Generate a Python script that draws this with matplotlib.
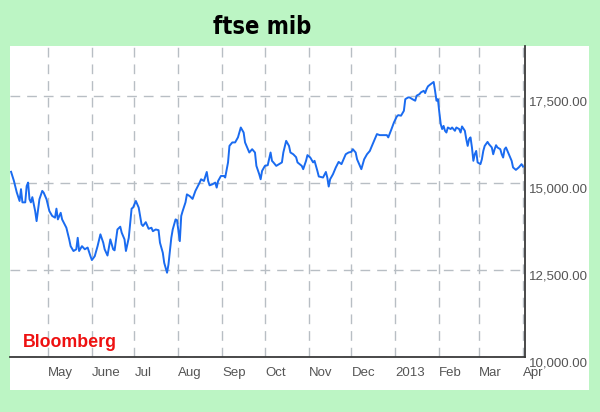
import matplotlib
matplotlib.use("Agg")
import matplotlib.pyplot as plt
from matplotlib.patches import Rectangle
from matplotlib.ticker import FuncFormatter
import pandas as pd

# ftse mib daily close (Apr 2012 - Apr 2013)
dates = [
    "2012-04-05", "2012-04-07", "2012-04-09", "2012-04-11", "2012-04-12", "2012-04-13", "2012-04-15",
    "2012-04-16", "2012-04-17", "2012-04-18", "2012-04-19", "2012-04-20", "2012-04-22", "2012-04-23",
    "2012-04-25", "2012-04-27", "2012-04-28", "2012-04-30", "2012-05-02", "2012-05-04", "2012-05-06",
    "2012-05-07", "2012-05-08", "2012-05-10", "2012-05-11", "2012-05-14", "2012-05-16", "2012-05-17",
    "2012-05-19", "2012-05-21", "2012-05-22", "2012-05-23", "2012-05-25", "2012-05-27", "2012-05-29",
    "2012-05-31", "2012-06-01", "2012-06-03", "2012-06-05", "2012-06-07", "2012-06-09", "2012-06-10",
    "2012-06-12", "2012-06-14", "2012-06-16", "2012-06-17", "2012-06-19", "2012-06-21", "2012-06-22",
    "2012-06-24", "2012-06-25", "2012-06-27", "2012-06-29", "2012-06-30", "2012-07-02", "2012-07-04",
    "2012-07-06", "2012-07-07", "2012-07-09", "2012-07-11", "2012-07-13", "2012-07-14", "2012-07-16",
    "2012-07-18", "2012-07-19", "2012-07-21", "2012-07-22", "2012-07-24", "2012-07-25", "2012-07-27",
    "2012-07-28", "2012-07-30", "2012-07-31", "2012-08-02", "2012-08-03", "2012-08-04", "2012-08-06",
    "2012-08-07", "2012-08-09", "2012-08-11", "2012-08-13", "2012-08-16", "2012-08-17", "2012-08-19",
    "2012-08-21", "2012-08-22", "2012-08-23", "2012-08-25", "2012-08-27", "2012-08-28", "2012-08-29",
    "2012-08-31", "2012-09-02", "2012-09-03", "2012-09-05", "2012-09-06", "2012-09-08", "2012-09-10",
    "2012-09-12", "2012-09-13", "2012-09-14", "2012-09-16", "2012-09-17", "2012-09-19", "2012-09-20",
    "2012-09-22", "2012-09-24", "2012-09-25", "2012-09-27", "2012-09-28", "2012-09-29", "2012-10-01",
    "2012-10-03", "2012-10-05", "2012-10-06", "2012-10-07", "2012-10-09", "2012-10-11", "2012-10-13",
    "2012-10-14", "2012-10-16", "2012-10-18", "2012-10-19", "2012-10-21", "2012-10-23", "2012-10-24",
    "2012-10-27", "2012-10-28", "2012-10-30", "2012-10-31", "2012-11-02", "2012-11-04", "2012-11-05",
    "2012-11-07", "2012-11-08", "2012-11-11", "2012-11-13", "2012-11-14", "2012-11-15", "2012-11-16",
    "2012-11-18", "2012-11-20", "2012-11-22", "2012-11-24", "2012-11-25", "2012-11-27", "2012-11-29",
    "2012-12-01", "2012-12-02", "2012-12-04", "2012-12-05", "2012-12-07", "2012-12-08", "2012-12-10",
    "2012-12-12", "2012-12-14", "2012-12-15", "2012-12-17", "2012-12-19", "2012-12-21", "2012-12-23",
    "2012-12-26", "2012-12-27", "2012-12-29", "2012-12-31", "2013-01-02", "2013-01-03", "2013-01-05",
    "2013-01-07", "2013-01-08", "2013-01-10", "2013-01-11", "2013-01-13", "2013-01-15", "2013-01-16",
    "2013-01-18", "2013-01-19", "2013-01-21", "2013-01-22", "2013-01-23", "2013-01-24", "2013-01-26",
    "2013-01-28", "2013-01-29", "2013-01-30", "2013-01-31", "2013-02-01", "2013-02-02", "2013-02-03",
    "2013-02-04", "2013-02-05", "2013-02-06", "2013-02-07", "2013-02-09", "2013-02-10", "2013-02-12",
    "2013-02-13", "2013-02-15", "2013-02-16", "2013-02-17", "2013-02-19", "2013-02-20", "2013-02-21",
    "2013-02-22", "2013-02-23", "2013-02-24", "2013-02-25", "2013-02-26", "2013-02-27", "2013-02-28",
    "2013-03-02", "2013-03-03", "2013-03-04", "2013-03-05", "2013-03-07", "2013-03-08", "2013-03-10",
    "2013-03-11", "2013-03-12", "2013-03-13", "2013-03-14", "2013-03-16", "2013-03-17", "2013-03-18",
    "2013-03-19", "2013-03-20", "2013-03-22", "2013-03-24", "2013-03-25", "2013-03-27", "2013-03-29",
    "2013-03-31", "2013-04-01",
]
values = [
    15330, 15070, 14740, 14490, 14830, 14450, 14450,
    14920, 15020, 14540, 14450, 14600, 14200, 13910,
    14540, 14780, 14730, 14540, 14200, 14060, 14010,
    14270, 13960, 14150, 13960, 13720, 13385, 13190,
    13050, 13100, 13430, 13050, 13190, 13100, 13150,
    12900, 12790, 12900, 13190, 13530, 13290, 13100,
    12920, 13385, 13100, 13070, 13670, 13750, 13580,
    13385, 13050, 13430, 14270, 14300, 14490, 14300,
    13820, 13770, 13880, 13690, 13720, 13620, 13670,
    13650, 13290, 13000, 12710, 12425, 12665, 13430,
    13670, 13960, 13940, 13335, 14060, 14200, 14450,
    14680, 14630, 14550, 14780, 15020, 15115, 15065,
    15325, 15065, 14940, 14970, 15020, 14875, 15065,
    15210, 15210, 15165, 15600, 16075, 16175, 16175,
    16320, 16460, 16605, 16460, 16175, 15980, 15885,
    15980, 15885, 15500, 15260, 15115, 15355, 15500,
    15520, 15885, 15645, 15600, 15500, 15550, 15600,
    15885, 16220, 16075, 15885, 15835, 15750, 15600,
    15500, 15405, 15645, 15810, 15740, 15600, 15645,
    15355, 15195, 15165, 15325, 15165, 14905, 15115,
    15260, 15455, 15615, 15550, 15645, 15835, 15885,
    15905, 15980, 15885, 15690, 15500, 15405, 15690,
    15835, 15930, 16030, 16220, 16415, 16385, 16385,
    16385, 16320, 16530, 16750, 16920, 16960, 16945,
    17085, 17420, 17470, 17470, 17420, 17375, 17520,
    17565, 17615, 17660, 17595, 17710, 17790, 17855,
    17915, 17660, 17375, 17420, 17040, 16700, 16560,
    16650, 16510, 16460, 16605, 16560, 16605, 16510,
    16605, 16560, 16460, 16635, 16510, 16270, 16075,
    16270, 16320, 16030, 15645, 15835, 15930, 15600,
    15550, 15690, 15930, 16075, 16190, 16125, 16030,
    15835, 15980, 16095, 16030, 15980, 15835, 15740,
    15980, 16030, 15835, 15645, 15455, 15385, 15455,
    15550, 15480,
]

month_starts = ["2012-05-01", "2012-06-01", "2012-07-01", "2012-08-01", "2012-09-01", "2012-10-01",
                "2012-11-01", "2012-12-01", "2013-01-01", "2013-02-01", "2013-03-01", "2013-04-01"]
month_labels = ["May", "June", "Jul", "Aug", "Sep", "Oct", "Nov", "Dec", "2013", "Feb", "Mar", "Apr"]
y_ticks = [10000, 12500, 15000, 17500]

x = pd.to_datetime(dates)

W, H = 600, 412
fig = plt.figure(figsize=(6, 4.12), dpi=100, facecolor="#bcf5c4")

# white panel behind the chart
fig.patches.append(Rectangle((10 / W, 1 - 390 / H), 579 / W, 344 / H,
                             transform=fig.transFigure, facecolor="white", edgecolor="none", zorder=-5))

ax = fig.add_axes([10 / W, 1 - 357 / H, 515 / W, 311 / H])
ax.set_zorder(1)
ax.set_facecolor("white")

ax.plot(x, values, color="#1a6bf0", linewidth=1.4, zorder=3)

ax.set_xlim(pd.Timestamp("2012-04-04 06:00"), pd.Timestamp("2013-04-02 10:00"))
ax.set_ylim(10000, 18950)

ax.set_xticks(pd.to_datetime(month_starts))
ax.set_xticklabels(month_labels)
ax.set_yticks(y_ticks)
ax.yaxis.set_major_formatter(FuncFormatter(lambda v, p: "{:,.2f}".format(v)))
ax.yaxis.tick_right()

ax.grid(True, color="#b8bec4", linestyle=(0, (7, 5)), linewidth=1)
ax.set_axisbelow(True)

for s in ["top", "left"]:
    ax.spines[s].set_visible(False)
for s in ["bottom", "right"]:
    ax.spines[s].set_color("#3a3a3a")
    ax.spines[s].set_linewidth(1.3)

ax.tick_params(axis="both", length=0, labelcolor="#555555", labelsize=9.5)
ax.tick_params(axis="x", pad=7)
ax.tick_params(axis="y", pad=3)
for lab in ax.get_xticklabels():
    lab.set_fontfamily("Liberation Sans")
    lab.set_horizontalalignment("left")
for lab in ax.get_yticklabels():
    lab.set_fontfamily("Liberation Sans")
    lab.set_verticalalignment("top")

# title and source tag
fig.text(262 / W, 1 - 34 / H, "ftse mib", ha="center", va="baseline",
         fontsize=17, fontweight="bold", family="DejaVu Sans", fontstretch="condensed", color="black")
fig.text(23 / W, 1 - 347 / H, "Bloomberg", ha="left", va="baseline",
         fontsize=12.8, fontweight="bold", family="Liberation Sans", color="#ee1111")

plt.savefig("out.png", dpi=100, facecolor=fig.get_facecolor())
